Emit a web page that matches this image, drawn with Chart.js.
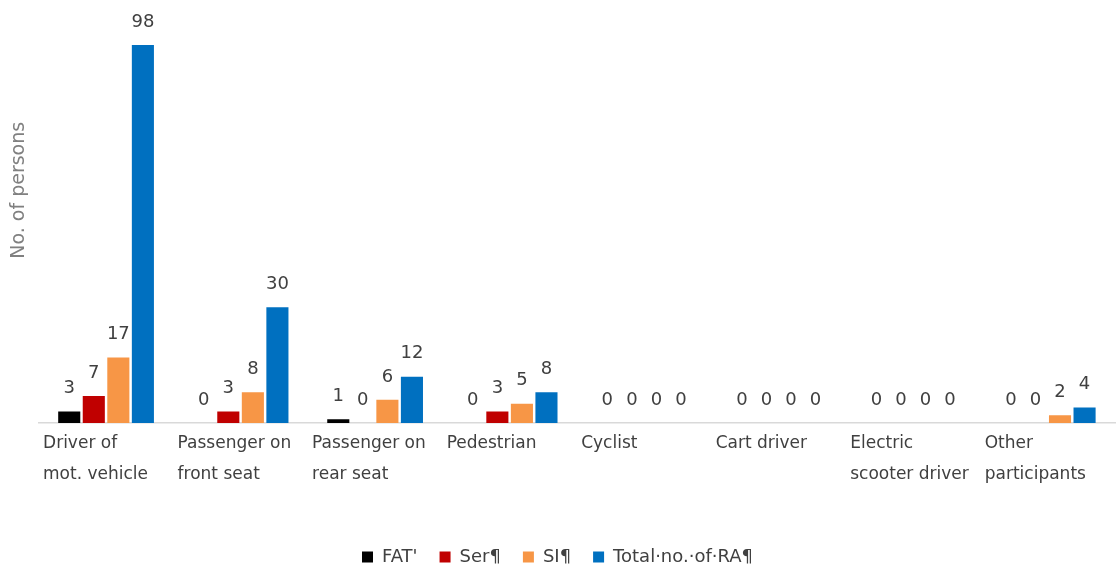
<!DOCTYPE html>
<html>
<head>
<meta charset="utf-8">
<script src="https://cdn.jsdelivr.net/npm/chart.js@4.4.1/dist/chart.umd.min.js"></script>
<style>
  html, body { margin: 0; padding: 0; background: #fff; }
  #wrap { width: 1117px; height: 567px; }
</style>
</head>
<body>
<div id="wrap"><canvas id="chart"></canvas></div>
<script>
const categories = [
  ["Driver of", "mot. vehicle"],
  ["Passenger on", "front seat"],
  ["Passenger on", "rear seat"],
  ["Pedestrian"],
  ["Cyclist"],
  ["Cart driver"],
  ["Electric", "scooter driver"],
  ["Other", "participants"]
];

const fatValues = [3, 0, 1, 0, 0, 0, 0, 0];
const serValues = [7, 3, 0, 3, 0, 0, 0, 0];
const siValues = [17, 8, 6, 5, 0, 0, 0, 2];
const totalValues = [98, 30, 12, 8, 0, 0, 0, 4];

const seriesNames = ["FAT'", "Ser¶", "SI¶", "Total·no.·of·RA¶"];
const seriesColors = ["#000000", "#c00000", "#f79646", "#0070c0"];

const FONT = "'DejaVu Sans', 'Noto Sans', sans-serif";

// value labels above each bar
const valueLabels = {
  id: "valueLabels",
  afterDatasetsDraw(chart) {
    const ctx = chart.ctx;
    ctx.save();
    ctx.font = "18px " + FONT;
    ctx.fillStyle = "#404040";
    ctx.textAlign = "center";
    ctx.textBaseline = "middle";
    chart.data.datasets.forEach((ds, i) => {
      const meta = chart.getDatasetMeta(i);
      meta.data.forEach((bar, j) => {
        ctx.fillText(String(ds.data[j]), bar.x, bar.y - 23);
      });
    });
    ctx.restore();
  }
};

const ctx = document.getElementById("chart").getContext("2d");

new Chart(ctx, {
  type: "bar",
  data: {
    labels: categories,
    datasets: [fatValues, serValues, siValues, totalValues].map((vals, i) => ({
      label: seriesNames[i],
      data: vals,
      backgroundColor: seriesColors[i],
      borderWidth: 0,
      categoryPercentage: 0.73,
      barPercentage: 0.9
    }))
  },
  options: {
    responsive: true,
    maintainAspectRatio: false,
    animation: false,
    layout: { padding: { top: 18, right: 2, bottom: -9, left: 0 } },
    plugins: {
      tooltip: { enabled: false },
      legend: {
        position: "bottom",
        labels: {
          boxWidth: 11,
          boxHeight: 11,
          padding: 22,
          color: "#404040",
          font: { family: FONT, size: 18 }
        }
      }
    },
    scales: {
      x: {
        grid: { display: false },
        border: { color: "#d9d9d9", width: 1.5 },
        ticks: {
          color: "#404040",
          font: { family: FONT, size: 17, lineHeight: 1.82 },
          align: "start",
          labelOffset: -63,
          padding: -3,
          autoSkip: false,
          maxRotation: 0
        },
        afterFit: (scale) => {
          scale.height = 103;
          scale.paddingLeft = 0;
          scale.paddingRight = 0;
        }
      },
      y: {
        min: 0,
        max: 105,
        grid: { display: false },
        border: { display: false },
        ticks: { display: false },
        title: {
          display: true,
          text: "          No. of persons",
          color: "#808080",
          font: { family: FONT, size: 19 },
          padding: { top: 8, bottom: 0 }
        }
      }
    }
  },
  plugins: [valueLabels]
});
</script>
</body>
</html>
